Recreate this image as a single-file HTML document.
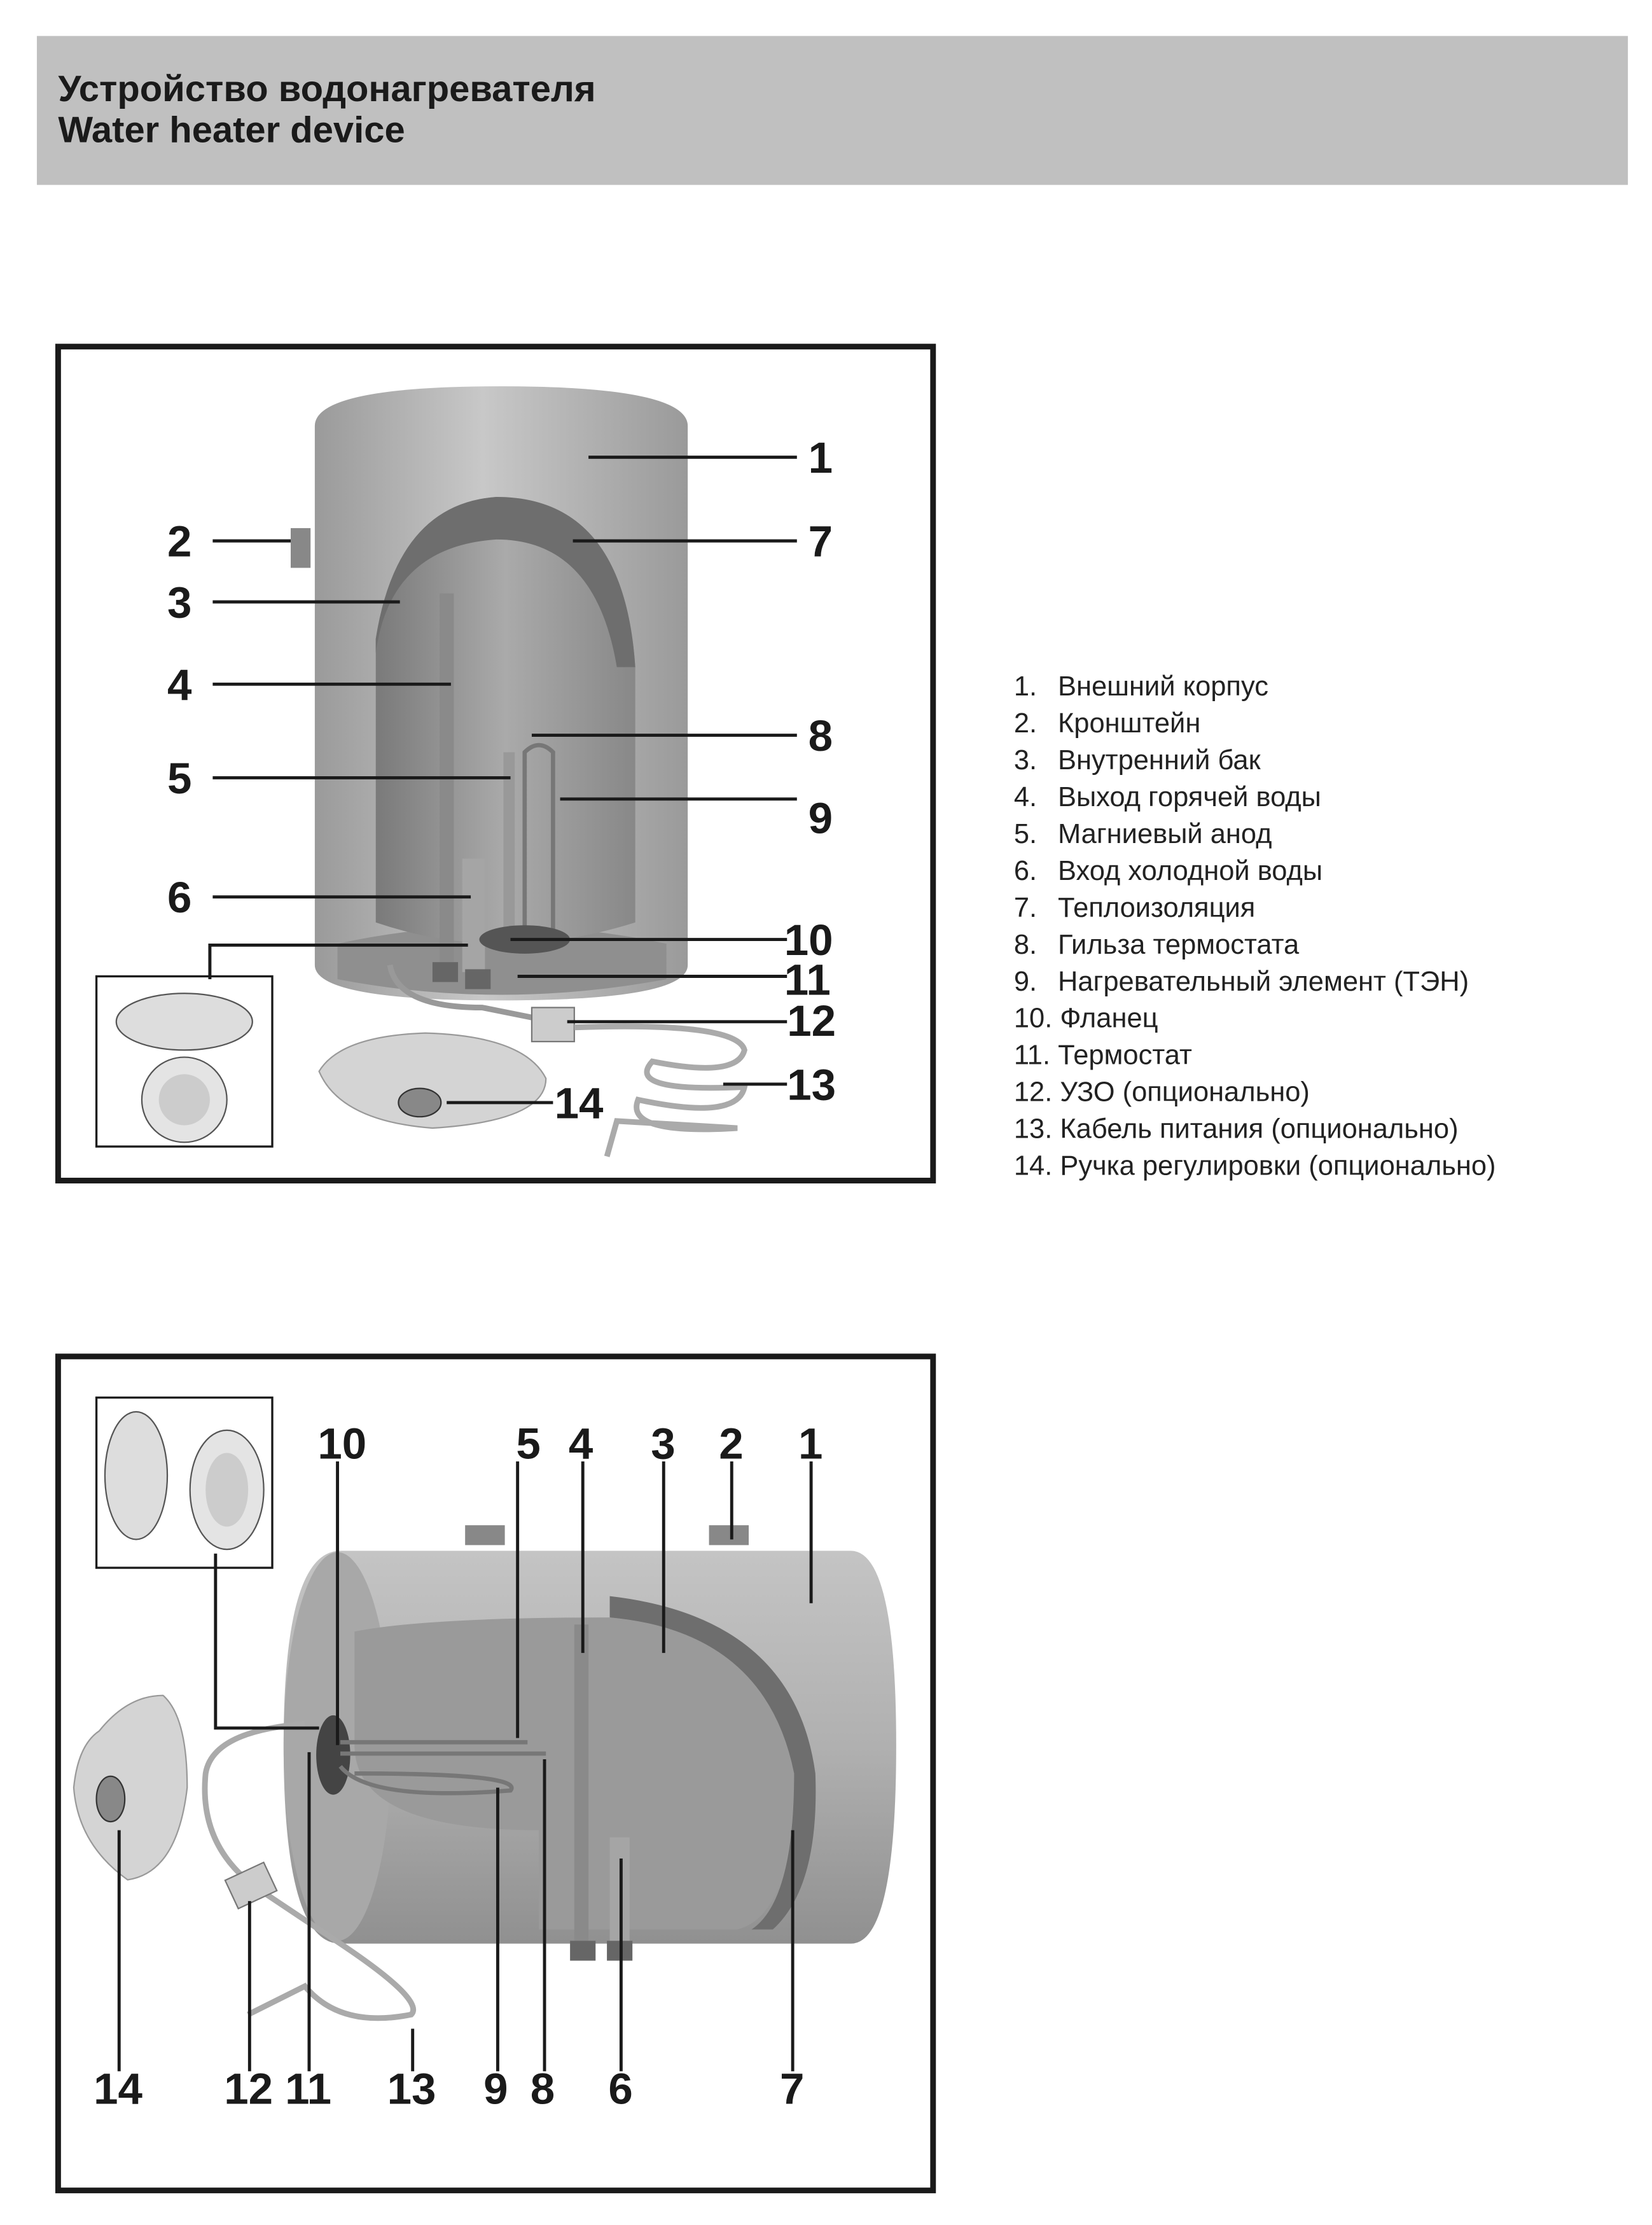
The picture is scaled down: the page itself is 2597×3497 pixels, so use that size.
<!DOCTYPE html>
<html><head><meta charset="utf-8"><style>
html,body{margin:0;padding:0;background:#fff;width:2597px;height:3497px;overflow:hidden}
svg{display:block}
.n{font-family:"Liberation Sans Narrow","Liberation Sans",sans-serif;font-weight:bold;font-size:31px;fill:#1a1a1a}
.l{font-family:"Liberation Sans","DejaVu Sans",sans-serif;font-size:19.5px;fill:#222}
.t{font-family:"Liberation Sans","DejaVu Sans",sans-serif;font-weight:bold;font-size:26px;fill:#1a1a1a}
.ln{stroke:#1a1a1a;stroke-width:2.2;fill:none}
</style></head><body>
<svg width="2597" height="3497" viewBox="0 0 1165 1568" xmlns="http://www.w3.org/2000/svg">
<defs>
<linearGradient id="g1" x1="0" x2="1"><stop offset="0" stop-color="#9a9a9a"/><stop offset=".45" stop-color="#c8c8c8"/><stop offset="1" stop-color="#9a9a9a"/></linearGradient>
<linearGradient id="g2" x1="0" x2="1"><stop offset="0" stop-color="#7a7a7a"/><stop offset=".5" stop-color="#aaa"/><stop offset="1" stop-color="#888"/></linearGradient>
<linearGradient id="g3" x1="0" y1="0" x2="0" y2="1"><stop offset="0" stop-color="#c4c4c4"/><stop offset=".5" stop-color="#b0b0b0"/><stop offset="1" stop-color="#909090"/></linearGradient>
</defs>
<rect x="26" y="25" width="1122" height="105" fill="#c0c0c0"/>
<text class="t" x="41" y="71">Устройство водонагревателя</text>
<text class="t" x="41" y="100">Water heater device</text>

<!-- Box 1 -->
<rect x="41" y="244" width="617" height="588" fill="none" stroke="#1a1a1a" stroke-width="4"/>
<path d="M222,300 Q222,272 353,272 Q485,272 485,300 L485,680 Q485,705 353,705 Q222,705 222,680 Z" fill="url(#g1)"/>
<path d="M238,665 Q353,640 470,665 L470,690 Q353,712 238,690 Z" fill="#8f8f8f"/>
<path d="M265,650 L265,450 Q280,355 350,350 Q440,350 448,470 L448,650 Q353,680 265,650 Z" fill="url(#g2)"/>
<path d="M265,460 Q275,385 350,380 Q420,380 435,470 L448,470 Q440,350 350,350 Q280,355 265,450 Z" fill="#6e6e6e"/>
<rect x="310" y="418" width="10" height="262" fill="#8a8a8a"/>
<rect x="355" y="530" width="8" height="130" fill="#999"/>
<rect x="326" y="605" width="16" height="80" fill="#a5a5a5"/>
<path d="M370,660 L370,530 Q380,520 390,530 L390,660" fill="none" stroke="#777" stroke-width="3"/>
<ellipse cx="370" cy="662" rx="32" ry="10" fill="#555"/>
<rect x="305" y="678" width="18" height="14" fill="#666"/><rect x="328" y="683" width="18" height="14" fill="#666"/>
<rect x="205" y="372" width="14" height="28" fill="#888"/>
<path d="M275,680 Q280,710 340,710 L380,718" fill="none" stroke="#999" stroke-width="4"/>
<rect x="375" y="710" width="30" height="24" fill="#ccc" stroke="#777"/>
<path d="M405,724 Q520,720 525,740 Q520,760 460,748 Q440,770 525,766 Q520,790 450,775 Q440,800 520,795 L435,790 L428,815" fill="none" stroke="#aaa" stroke-width="4"/>
<path d="M225,755 Q240,730 300,728 Q370,730 385,760 Q385,790 305,795 Q240,790 225,755 Z" fill="#d4d4d4" stroke="#999"/>
<ellipse cx="296" cy="777" rx="15" ry="10" fill="#888" stroke="#333"/>
<rect x="68" y="688" width="124" height="120" fill="#fff" stroke="#1a1a1a" stroke-width="1.5"/>
<ellipse cx="130" cy="720" rx="48" ry="20" fill="#ddd" stroke="#555"/>
<circle cx="130" cy="775" r="30" fill="#e4e4e4" stroke="#555"/><circle cx="130" cy="775" r="18" fill="#ccc"/>
<path class="ln" d="M415,322H562 M150,381H205 M150,424H282 M150,482H318 M150,548H360 M150,632H332 M404,381H562 M375,518H562 M395,563H562 M360,662H555 M365,688H555 M400,720H555 M510,764H555 M315,777H390 M148,690V666H330"/>
<text class="n" x="570" y="333">1</text><text class="n" x="118" y="392">2</text><text class="n" x="118" y="435">3</text>
<text class="n" x="118" y="493">4</text><text class="n" x="118" y="559">5</text><text class="n" x="118" y="643">6</text>
<text class="n" x="570" y="392">7</text><text class="n" x="570" y="529">8</text><text class="n" x="570" y="587">9</text>
<text class="n" x="553" y="673">10</text><text class="n" x="553" y="701">11</text><text class="n" x="555" y="730">12</text>
<text class="n" x="555" y="775">13</text><text class="n" x="391" y="788">14</text>

<!-- Legend -->
<g class="l">
<text x="715" y="490">1.</text><text x="746" y="490">Внешний корпус</text>
<text x="715" y="516">2.</text><text x="746" y="516">Кронштейн</text>
<text x="715" y="542">3.</text><text x="746" y="542">Внутренний бак</text>
<text x="715" y="568">4.</text><text x="746" y="568">Выход горячей воды</text>
<text x="715" y="594">5.</text><text x="746" y="594">Магниевый анод</text>
<text x="715" y="620">6.</text><text x="746" y="620">Вход холодной воды</text>
<text x="715" y="646">7.</text><text x="746" y="646">Теплоизоляция</text>
<text x="715" y="672">8.</text><text x="746" y="672">Гильза термостата</text>
<text x="715" y="698">9.</text><text x="746" y="698">Нагревательный элемент (ТЭН)</text>
<text x="715" y="724">10. Фланец</text>
<text x="715" y="750">11. Термостат</text>
<text x="715" y="776">12. УЗО (опционально)</text>
<text x="715" y="802">13. Кабель питания (опционально)</text>
<text x="715" y="828">14. Ручка регулировки (опционально)</text>
</g>

<!-- Box 2 -->
<rect x="41" y="956" width="617" height="588" fill="none" stroke="#1a1a1a" stroke-width="4"/>
<path d="M240,1093 L600,1093 Q632,1093 632,1230 Q632,1370 600,1370 L240,1370 Q200,1370 200,1230 Q200,1093 240,1093 Z" fill="url(#g3)"/>
<ellipse cx="238" cy="1231" rx="38" ry="137" fill="#a8a8a8"/>
<path d="M250,1150 Q300,1140 430,1140 Q540,1150 560,1250 Q560,1350 520,1360 L380,1360 L380,1290 Q250,1290 250,1230 Z" fill="#9a9a9a"/>
<path d="M430,1140 Q540,1150 560,1250 Q560,1340 530,1360 L545,1360 Q578,1330 575,1250 Q560,1140 430,1125 Z" fill="#6e6e6e"/>
<rect x="405" y="1145" width="10" height="225" fill="#8a8a8a"/>
<rect x="430" y="1295" width="14" height="75" fill="#a5a5a5"/>
<rect x="402" y="1368" width="18" height="14" fill="#666"/><rect x="428" y="1368" width="18" height="14" fill="#666"/>
<ellipse cx="235" cy="1237" rx="12" ry="28" fill="#444"/>
<path d="M240,1228H372 M240,1236H385 M240,1245 Q260,1270 360,1262 Q370,1250 250,1250" fill="none" stroke="#777" stroke-width="3"/>
<rect x="328" y="1075" width="28" height="14" fill="#888"/><rect x="500" y="1075" width="28" height="14" fill="#888"/>
<path d="M70,1220 Q90,1195 115,1195 Q132,1210 132,1260 Q125,1320 90,1325 Q55,1300 52,1260 Q55,1230 70,1220 Z" fill="#d4d4d4" stroke="#999"/>
<ellipse cx="78" cy="1268" rx="10" ry="16" fill="#888" stroke="#333"/>
<path d="M215,1215 Q150,1220 145,1250 Q140,1300 180,1330 L240,1370 Q300,1410 290,1420 Q240,1430 215,1400 L175,1420" fill="none" stroke="#aaa" stroke-width="4"/>
<rect x="162" y="1318" width="30" height="22" fill="#ccc" stroke="#777" transform="rotate(-25 177 1329)"/>
<rect x="68" y="985" width="124" height="120" fill="#fff" stroke="#1a1a1a" stroke-width="1.5"/>
<ellipse cx="96" cy="1040" rx="22" ry="45" fill="#ddd" stroke="#555"/>
<ellipse cx="160" cy="1050" rx="26" ry="42" fill="#e4e4e4" stroke="#555"/><ellipse cx="160" cy="1050" rx="15" ry="26" fill="#ccc"/>
<path class="ln" d="M238,1030V1230 M365,1030V1225 M411,1030V1165 M468,1030V1165 M516,1030V1085 M572,1030V1130 M152,1095V1218H225 M84,1290V1460 M176,1340V1460 M218,1235V1460 M291,1430V1460 M351,1260V1460 M384,1240V1460 M438,1310V1460 M559,1290V1460"/>
<text class="n" x="224" y="1028">10</text><text class="n" x="364" y="1028">5</text><text class="n" x="401" y="1028">4</text>
<text class="n" x="459" y="1028">3</text><text class="n" x="507" y="1028">2</text><text class="n" x="563" y="1028">1</text>
<text class="n" x="66" y="1483">14</text><text class="n" x="158" y="1483">12</text><text class="n" x="201" y="1483">11</text>
<text class="n" x="273" y="1483">13</text><text class="n" x="341" y="1483">9</text><text class="n" x="374" y="1483">8</text>
<text class="n" x="429" y="1483">6</text><text class="n" x="550" y="1483">7</text>
</svg>
</body></html>
